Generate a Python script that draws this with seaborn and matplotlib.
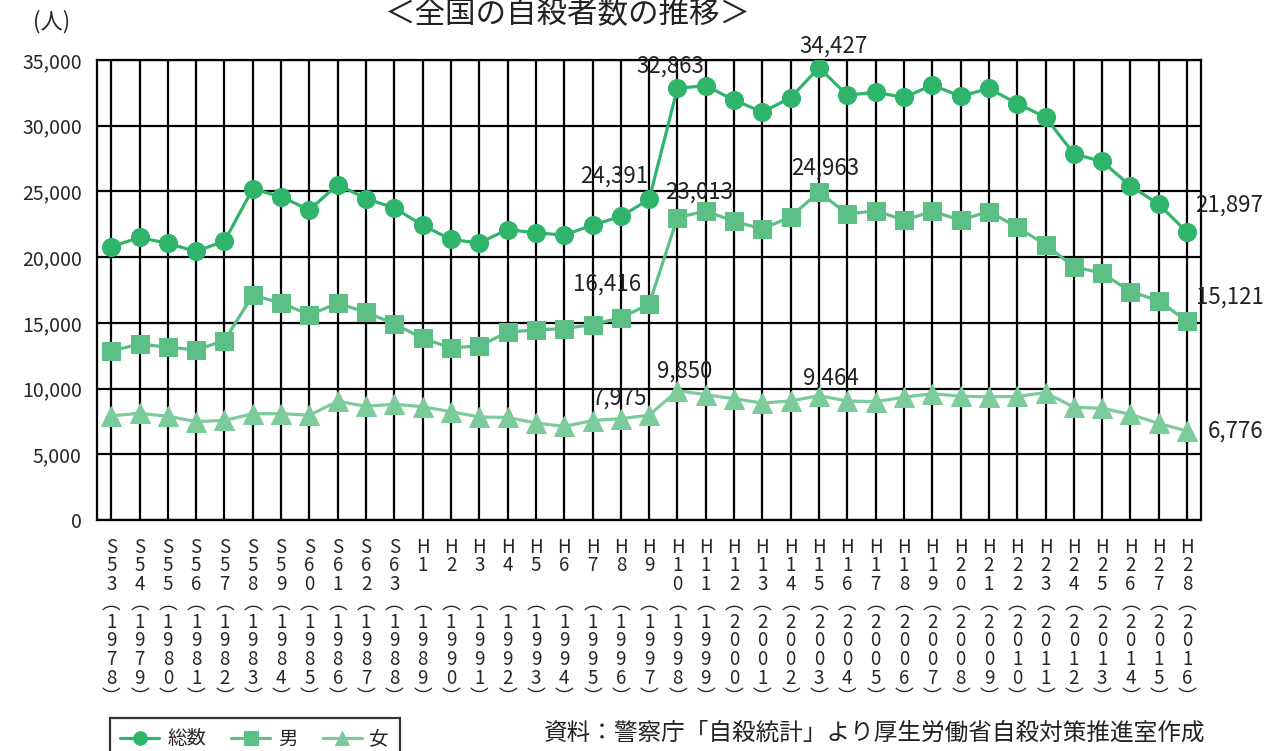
import numpy as np
import pandas as pd
import matplotlib
matplotlib.use('Agg')
import matplotlib.pyplot as plt
import seaborn as sns

sns.set_style('white')
plt.rcParams['font.family'] = ['Noto Sans CJK JP', 'DejaVu Sans']

# Years (era label + western year)
era = ['S53', 'S54', 'S55', 'S56', 'S57', 'S58', 'S59', 'S60', 'S61', 'S62', 'S63',
       'H1', 'H2', 'H3', 'H4', 'H5', 'H6', 'H7', 'H8', 'H9', 'H10', 'H11', 'H12', 'H13',
       'H14', 'H15', 'H16', 'H17', 'H18', 'H19', 'H20', 'H21', 'H22', 'H23', 'H24',
       'H25', 'H26', 'H27', 'H28']
years = list(range(1978, 2017))

total = [20788, 21503, 21048, 20434, 21228, 25202, 24596, 23599, 25524, 24460, 23742,
         22436, 21346, 21084, 22104, 21851, 21679, 22445, 23104, 24391, 32863, 33048,
         31957, 31042, 32143, 34427, 32325, 32552, 32155, 33093, 32249, 32845, 31690,
         30651, 27858, 27283, 25427, 24025, 21897]
male = [12859, 13386, 13155, 12942, 13654, 17116, 16508, 15624, 16497, 15802, 14934,
        13818, 13102, 13242, 14296, 14468, 14560, 14874, 15393, 16416, 23013, 23512,
        22727, 22144, 23080, 24963, 23272, 23540, 22813, 23478, 22831, 23472, 22283,
        20955, 19273, 18787, 17386, 16681, 15121]
female = [7929, 8117, 7893, 7492, 7574, 8086, 8088, 7975, 9027, 8658, 8808,
          8618, 8244, 7842, 7808, 7383, 7119, 7571, 7711, 7975, 9850, 9536,
          9230, 8898, 9063, 9464, 9053, 9012, 9342, 9615, 9418, 9373, 9407,
          9696, 8585, 8496, 8041, 7344, 6776]

series_names = ['総数', '男', '女']
colors = ['#2fb46c', '#5cbf86', '#7ccb9b']
markers = ['o', 's', '^']
msizes = [13, 13.5, 14]

# labelled points: (series index, year index, offset x px, offset y px)
labelled = [(0, 19, -35, 23), (0, 20, -7, 22), (0, 25, 14, 22), (0, 38, 42, 27),
            (1, 19, -42, 20), (1, 20, 22, 25), (1, 25, 6, 24), (1, 38, 43, 24),
            (2, 19, -30, 17), (2, 20, 7, 19), (2, 25, 12, 18), (2, 38, 48, 0)]


def stacked_label(e, y):
    num = e[1:]
    rows = [e[0]] + list(num)
    if len(num) == 1:
        rows.append(' ')
    rows += ['︵'] + list(str(y)) + ['︶']
    return '\n'.join(rows)


xlabels = [stacked_label(e, y) for e, y in zip(era, years)]

fig = plt.figure(figsize=(12.67, 7.51), dpi=100)
ax = fig.add_axes([0.0766, 0.3076, 0.8715, 0.6124])

x = np.arange(len(years))
all_series = [total, male, female]
for name, vals, c, m, ms in zip(series_names, all_series, colors, markers, msizes):
    sns.lineplot(x=x, y=vals, ax=ax, color=c, marker=m, markersize=ms,
                 markeredgecolor=c, linewidth=2.3, label=name, zorder=3)

ax.set_xlim(-0.5, len(years) - 0.5)
ax.set_ylim(0, 35000)
ax.set_yticks(range(0, 35001, 5000))
ax.set_yticklabels([f'{v:,}' if v else '0' for v in range(0, 35001, 5000)], fontsize=14)
ax.set_xticks(x)
ax.set_xticklabels(xlabels, fontsize=13.5, linespacing=0.86, va='top')
ax.tick_params(axis='x', length=4, width=1.2, color='black', pad=8)
ax.tick_params(axis='y', length=0, pad=11)
ax.grid(True, color='black', linewidth=1.6)
for s in ax.spines.values():
    s.set_color('black')
    s.set_linewidth(1.6)
ax.set_xlabel('')
ax.set_ylabel('')

# value annotations
for si, i, dx, dy in labelled:
    v = all_series[si][i]
    ax.annotate(f'{v:,}', xy=(i, v), xytext=(dx * 0.72, dy * 0.72),
                textcoords='offset points', ha='center', va='center',
                fontsize=16, color='#222222', zorder=5)

leg = ax.legend(loc='upper left', bbox_to_anchor=(100 / 1267, 1 - 708 / 751),
                bbox_transform=fig.transFigure, ncol=3, frameon=True, fancybox=False,
                fontsize=14, handlelength=2.0, columnspacing=1.3, borderpad=0.55,
                handletextpad=0.4, markerscale=0.75)
leg.get_frame().set_edgecolor('black')
leg.get_frame().set_linewidth(1.6)

fig.text(52 / 1267, 1 - 22 / 751, '(人)', fontsize=16, ha='center', va='center')
fig.text(568 / 1267, 1 - 14 / 751, '＜全国の自殺者数の推移＞', fontsize=22, ha='center',
         va='center', color='#222222')
fig.text(1205 / 1267, 1 - 733 / 751, '資料：警察庁「自殺統計」より厚生労働省自殺対策推進室作成',
         fontsize=17, ha='right', va='center', color='#222222')

fig.savefig('out.png', dpi=100)
